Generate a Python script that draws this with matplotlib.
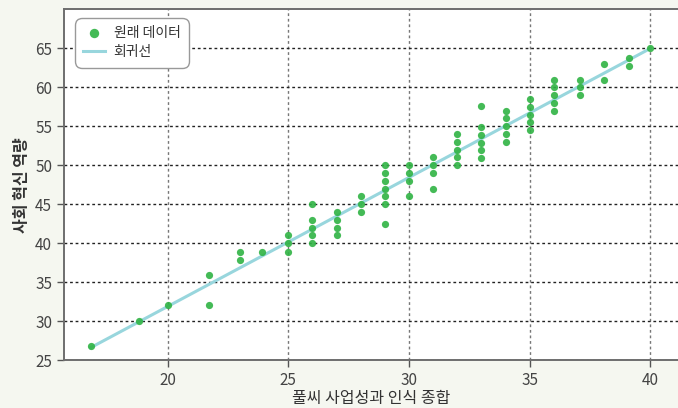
import numpy as np
import matplotlib.pyplot as plt

plt.rcParams['font.family'] = ['Noto Sans CJK KR', 'DejaVu Sans']

# 풀씨 사업성과 인식 종합 (x) vs 사회 혁신 역량 (y)
x_vals = [16.8, 18.8, 20.0, 21.7, 21.7, 23.0, 23.0, 23.9,
          25.0, 25.0, 25.0,
          26.0, 26.0, 26.0, 26.0, 26.0,
          27.0, 27.0, 27.0, 27.0,
          28.0, 28.0, 28.0,
          29.0, 29.0, 29.0, 29.0, 29.0, 29.0, 29.0,
          30.0, 30.0, 30.0, 30.0,
          31.0, 31.0, 31.0, 31.0,
          32.0, 32.0, 32.0, 32.0, 32.0,
          33.0, 33.0, 33.0, 33.0, 33.0, 33.0,
          34.0, 34.0, 34.0, 34.0, 34.0,
          35.0, 35.0, 35.0, 35.0, 35.0,
          36.0, 36.0, 36.0, 36.0, 36.0,
          37.1, 37.1, 37.1,
          38.1, 38.1,
          39.1, 39.1,
          40.0]
y_vals = [26.8, 30.0, 32.0, 35.9, 32.0, 38.9, 37.9, 38.9,
          41.0, 40.0, 38.9,
          45.0, 43.0, 42.0, 41.0, 40.0,
          44.0, 43.0, 42.0, 41.0,
          46.0, 45.0, 44.0,
          50.0, 49.0, 48.0, 47.0, 46.0, 45.0, 42.5,
          50.0, 49.0, 48.0, 46.0,
          51.0, 50.0, 49.0, 47.0,
          54.0, 53.0, 52.0, 51.0, 50.0,
          57.6, 54.9, 53.9, 52.9, 51.9, 50.9,
          57.0, 56.0, 55.0, 54.0, 53.0,
          58.5, 57.5, 56.5, 55.5, 54.5,
          61.0, 60.0, 59.0, 58.0, 57.0,
          61.0, 60.0, 59.0,
          63.0, 61.0,
          63.7, 62.7,
          65.0]

x_ticks = [20, 25, 30, 35, 40]
y_ticks = [25, 30, 35, 40, 45, 50, 55, 60, 65]

x = np.array(x_vals)
y = np.array(y_vals)
slope, intercept = np.polyfit(x, y, 1)
line_x = np.array([x.min(), x.max()])
line_y = slope * line_x + intercept

fig = plt.figure(figsize=(6.78, 4.08), dpi=100, facecolor='#f5f7f0')
ax = fig.add_axes([0.0944, 0.1176, 0.9056, 0.8594])
ax.set_facecolor('white')

ax.plot(line_x, line_y, color='#98d6dd', lw=2.2, zorder=2, label='회귀선')
ax.plot(x, y, 'o', color='#2fb344', ms=5.2, alpha=0.9, mec='none',
        zorder=3, label='원래 데이터')

ax.set_xlim(15.7, 41.15)
ax.set_ylim(25, 70)
ax.set_xticks(x_ticks)
ax.set_yticks(y_ticks)

ax.grid(axis='y', color='#222222', linestyle=(0, (2, 2)), lw=1.0)
ax.grid(axis='x', color='#777777', linestyle=(0, (2, 2)), lw=1.0)
ax.set_axisbelow(True)

for side in ['left', 'bottom', 'top']:
    ax.spines[side].set_color('#6e6e6e')
    ax.spines[side].set_linewidth(1.4)
ax.spines['right'].set_visible(False)

ax.tick_params(axis='both', labelsize=11, labelcolor='#444444',
               color='#555555', length=5, width=1)

ax.set_xlabel('풀씨 사업성과 인식 종합', fontsize=11.5, color='#333333',
              fontweight='medium', labelpad=1)
ax.set_ylabel('사회 혁신 역량', fontsize=11.5, color='#333333',
              fontweight='bold', labelpad=4)

handles, labels = ax.get_legend_handles_labels()
leg = ax.legend(handles[::-1], labels[::-1], loc='upper left',
                bbox_to_anchor=(0.006, 0.995), fontsize=10,
                frameon=True, fancybox=True, edgecolor='#999999',
                framealpha=1, handlelength=1.6, handletextpad=0.6,
                borderpad=0.6, labelspacing=0.35, markerscale=1.3)
leg.get_frame().set_linewidth(1.0)
leg.get_frame().set_boxstyle('round', pad=0, rounding_size=0.5)
for t in leg.get_texts():
    t.set_color('#333333')

fig.savefig('out.png', dpi=100, facecolor=fig.get_facecolor())
